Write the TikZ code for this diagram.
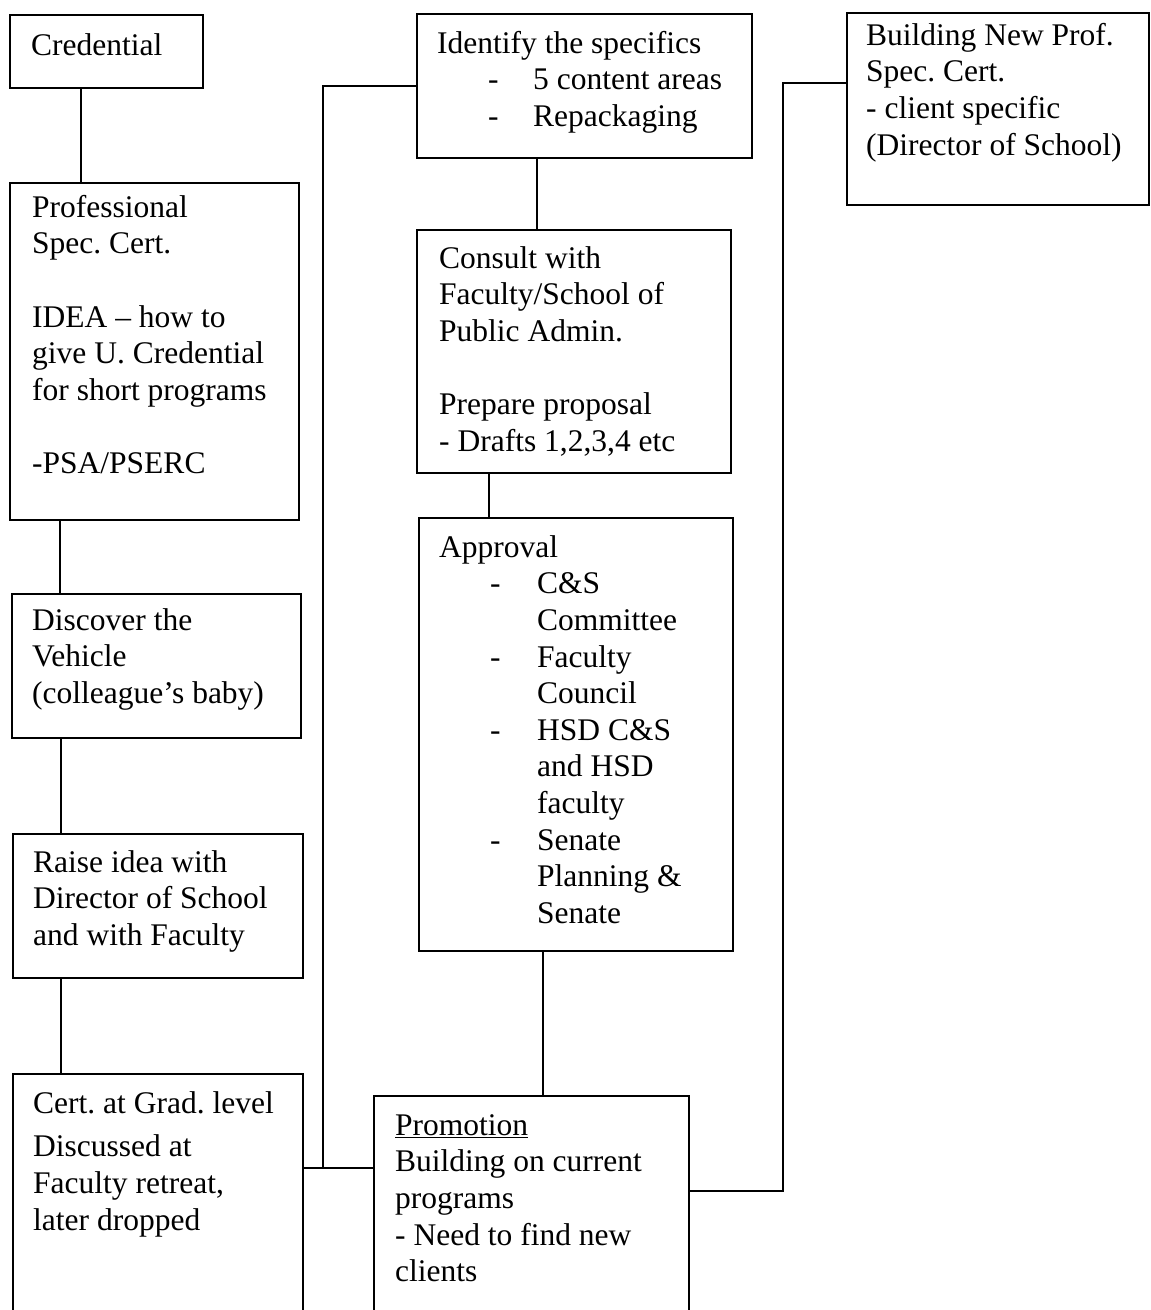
\documentclass[tikz,border=0pt]{standalone}
\usepackage{fontspec}
\setmainfont{Liberation Serif}
\frenchspacing
\newcommand\lblstrut{\rule{0pt}{26pt}}
% list item with a dash: indent, dash, then the item text
\newcommand\dashitem[2]{\hspace*{51pt}\makebox[#1][l]{-}#2}
\newcommand\contitem[1]{\hspace*{#1}}
\begin{document}
\begin{tikzpicture}[x=1pt,y=-1pt,
  box/.style={draw, line width=1.8pt, anchor=north west, inner sep=0pt},
  lbl/.style={anchor=north west, inner sep=0pt, align=left,
              font=\fontsize{31.5}{36.6}\selectfont},
  conn/.style={draw, line width=1.5pt}]
\useasboundingbox (0,0) rectangle (1151,1310);
\clip (0,0) rectangle (1151,1310);

% ---- left column ----
\node[box, minimum width=193pt, minimum height=73pt]  (cred)    at (9,14)   {};
\node[box, minimum width=289pt, minimum height=337pt] (prof)    at (9,182)  {};
\node[box, minimum width=289pt, minimum height=144pt] (disc)    at (11,593) {};
\node[box, minimum width=290pt, minimum height=144pt] (raise)   at (12,833) {};
\node[box, minimum width=290pt, minimum height=270pt] (cert)    at (12,1073) {};

% ---- middle column ----
\node[box, minimum width=335pt, minimum height=144pt] (ident)   at (416,13)  {};
\node[box, minimum width=314pt, minimum height=243pt] (consult) at (416,229) {};
\node[box, minimum width=314pt, minimum height=433pt] (approv)  at (418,517) {};
\node[box, minimum width=315pt, minimum height=250pt] (promo)   at (373,1095) {};

% ---- right column ----
\node[box, minimum width=302pt, minimum height=192pt] (build)   at (846,12) {};

% ---- texts ----
\node[lbl] (cred-t) at (31,29) {\lblstrut Credential};
\node[lbl] (prof-t) at (32,191) {\lblstrut Professional\\Spec. Cert.\\[36.6pt]IDEA – how to\\give U. Credential\\for short programs\\[36.6pt]-PSA/PSERC};
\node[lbl] (disc-t) at (32,604) {\lblstrut Discover the\\Vehicle\\(colleague’s baby)};
\node[lbl] (raise-t) at (33,846) {\lblstrut Raise idea with\\Director of School\\and with Faculty};
\node[lbl] (cert-t) at (33,1087) {\lblstrut Cert. at Grad. level\\[7pt]Discussed at\\Faculty retreat,\\later dropped};

\node[lbl] (ident-t) at (437,27) {\lblstrut Identify the specifics\\\dashitem{45pt}{5 content areas}\\\dashitem{45pt}{Repackaging}};
\node[lbl] (consult-t) at (439,242) {\lblstrut Consult with\\Faculty/School of\\Public Admin.\\[36.6pt]Prepare proposal\\- Drafts 1,2,3,4 etc};
\node[lbl] (approv-t) at (439,531) {\lblstrut Approval\\\dashitem{47pt}{C\&S}\\\contitem{98pt}Committee\\\dashitem{47pt}{Faculty}\\\contitem{98pt}Council\\\dashitem{47pt}{HSD C\&S}\\\contitem{98pt}and HSD\\\contitem{98pt}faculty\\\dashitem{47pt}{Senate}\\\contitem{98pt}Planning \&\\\contitem{98pt}Senate};
\node[lbl] (promo-t) at (395,1109) {\lblstrut \underline{Promotion}\\Building on current\\programs\\- Need to find new\\clients};

\node[lbl] (build-t) at (866,19) {\lblstrut Building New Prof.\\Spec. Cert.\\- client specific\\(Director of School)};

% ---- connector positions ----
\coordinate (xa) at (81,0);
\coordinate (xb) at (60,0);
\coordinate (xc) at (61,0);
\coordinate (xd) at (537,0);
\coordinate (xe) at (489,0);
\coordinate (xf) at (543,0);
\coordinate (xv) at (323,0);
\coordinate (xw) at (783,0);
\coordinate (ya) at (0,86);
\coordinate (yb) at (0,1168);
\coordinate (yc) at (0,1191);
\coordinate (yd) at (0,83);

% ---- connectors ----
\draw[conn] (xa |- cred.south) -- (xa |- prof.north);
\draw[conn] (xb |- prof.south) -- (xb |- disc.north);
\draw[conn] (xc |- disc.south) -- (xc |- raise.north);
\draw[conn] (xc |- raise.south) -- (xc |- cert.north);
\draw[conn] (xd |- ident.south) -- (xd |- consult.north);
\draw[conn] (xe |- consult.south) -- (xe |- approv.north);
\draw[conn] (xf |- approv.south) -- (xf |- promo.north);
\draw[conn] (ident.west |- ya) -- (xv |- ya) -- (xv |- yb);
\draw[conn] (cert.east |- yb) -- (promo.west |- yb);
\draw[conn] (promo.east |- yc) -- (xw |- yc) -- (xw |- yd) -- (build.west |- yd);
\end{tikzpicture}
\end{document}
